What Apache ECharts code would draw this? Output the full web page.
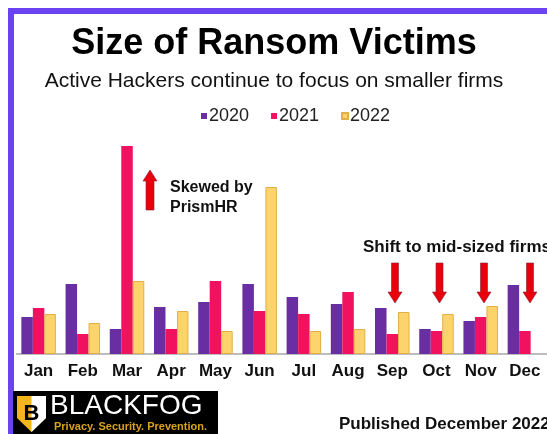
<!DOCTYPE html>
<html>
<head>
<meta charset="utf-8">
<script src="https://cdn.jsdelivr.net/npm/echarts@6/dist/echarts.min.js"></script>
<style>
  html, body { margin: 0; padding: 0; background: #fff; }
  #chart { width: 547px; height: 434px; }
</style>
</head>
<body>
<div id="chart"></div>
<script>
const months = ['Jan', 'Feb', 'Mar', 'Apr', 'May', 'Jun', 'Jul', 'Aug', 'Sep', 'Oct', 'Nov', 'Dec'];
const years = ['2020', '2021', '2022'];
// relative victim counts (Dec 2022 not reported)
const v2020 = [37, 70, 25, 47, 52, 70, 57, 50, 46, 25, 33, 69];
const v2021 = [46, 20, 208, 25, 73, 43, 40, 62, 20, 23, 37, 23];
const v2022 = [40, 31, 73, 43, 23, 167, 23, 25, 42, 40, 48, null];

const colors = ['#6a2ea3', '#f0125f', '#fdd46c'];
const font = '"Liberation Sans", Arial, sans-serif';

const chart = echarts.init(document.getElementById('chart'), null, { renderer: 'canvas' });

// down arrow shape, x = center, y = top
const downArrow = (x, y) => ({
  type: 'polygon',
  shape: {
    points: [[x - 3.5, y], [x + 3.5, y], [x + 3.5, y + 29], [x + 7, y + 29], [x, y + 40], [x - 7, y + 29], [x - 3.5, y + 29]]
  },
  style: { fill: '#e8000c', stroke: '#8a2030', lineWidth: 0.6 }
});

const option = {
  animation: false,
  title: [
    {
      text: 'Size of Ransom Victims',
      left: 269, top: 21, textAlign: 'center',
      textStyle: { fontFamily: font, fontSize: 36, fontWeight: 'bold', color: '#000' }
    },
    {
      text: 'Active Hackers continue to focus on smaller firms',
      left: 269, top: 66, textAlign: 'center',
      textStyle: { fontFamily: font, fontSize: 21, fontWeight: 'normal', color: '#111' }
    },
    {
      text: 'Shift to mid-sized firms',
      left: 358, top: 234,
      textStyle: { fontFamily: font, fontSize: 17, fontWeight: 'bold', color: '#111' }
    },
    {
      text: 'Skewed by\nPrismHR',
      left: 165, top: 173,
      textStyle: { fontFamily: font, fontSize: 16, fontWeight: 'bold', color: '#111', lineHeight: 20 }
    },
    {
      text: 'Published December 2022',
      left: 334, top: 411,
      textStyle: { fontFamily: font, fontSize: 17, fontWeight: 'bold', color: '#111' }
    }
  ],
  legend: {
    data: years,
    left: 196, top: 102,
    itemWidth: 6, itemHeight: 6, itemGap: 22,
    icon: 'rect',
    textStyle: { fontFamily: font, fontSize: 18, color: '#222', padding: [0, 0, 0, -3] }
  },
  grid: { left: 16.5, width: 534.6, top: 146, bottom: 80 },
  xAxis: {
    type: 'category',
    data: months,
    axisLine: { lineStyle: { color: '#a8a8a8', width: 1.5 } },
    axisTick: { show: false },
    axisLabel: { fontFamily: font, fontSize: 17, fontWeight: 'bold', color: '#111', margin: 9, interval: 0 }
  },
  yAxis: { type: 'value', min: 0, max: 208, show: false, splitLine: { show: false } },
  series: [
    { name: years[0], type: 'bar', data: v2020, barWidth: 11.5, barGap: '0%', itemStyle: { color: colors[0] } },
    { name: years[1], type: 'bar', data: v2021, barWidth: 11.5, barGap: '0%', itemStyle: { color: colors[1] } },
    { name: years[2], type: 'bar', data: v2022, barWidth: 11.5, barGap: '0%',
      itemStyle: { color: colors[2], borderColor: '#e0b048', borderWidth: 1 } }
  ],
  graphic: [
    // purple frame
    { type: 'rect', shape: { x: 8, y: 8, width: 560, height: 6 }, style: { fill: '#6a42f2' } },
    { type: 'rect', shape: { x: 8, y: 8, width: 6, height: 440 }, style: { fill: '#6a42f2' } },
    // up arrow next to Mar
    {
      type: 'polygon',
      shape: { points: [[150, 170], [157, 181], [154, 181], [154, 210], [146, 210], [146, 181], [143, 181]] },
      style: { fill: '#e8000c', stroke: '#8a2030', lineWidth: 0.6 }
    },
    downArrow(395, 263),
    downArrow(439.5, 263),
    downArrow(484, 263),
    downArrow(530, 263),
    // logo
    { type: 'rect', shape: { x: 13, y: 391, width: 205, height: 43 }, style: { fill: '#000' } },
    {
      type: 'polygon',
      shape: { points: [[17, 396], [46, 396], [46, 418], [31.5, 432], [17, 418]] },
      style: { fill: '#f2b51c' }
    },
    {
      type: 'polygon',
      shape: { points: [[31.5, 396], [46, 396], [46, 418], [31.5, 432]] },
      style: { fill: '#ffffff' }
    },
    {
      type: 'text',
      style: { x: 31.5, y: 414, text: 'B', fill: '#000', font: 'bold 22px ' + font, textAlign: 'center', textVerticalAlign: 'middle' }
    },
    {
      type: 'text',
      style: { x: 50, y: 406, text: 'BLACKFOG', fill: '#fff', font: '28px ' + font, textVerticalAlign: 'middle' }
    },
    {
      type: 'text',
      style: { x: 54, y: 427, text: 'Privacy. Security. Prevention.', fill: '#d9a21a', font: 'bold 11px ' + font, textVerticalAlign: 'middle' }
    }
  ]
};

chart.setOption(option);
</script>
</body>
</html>
